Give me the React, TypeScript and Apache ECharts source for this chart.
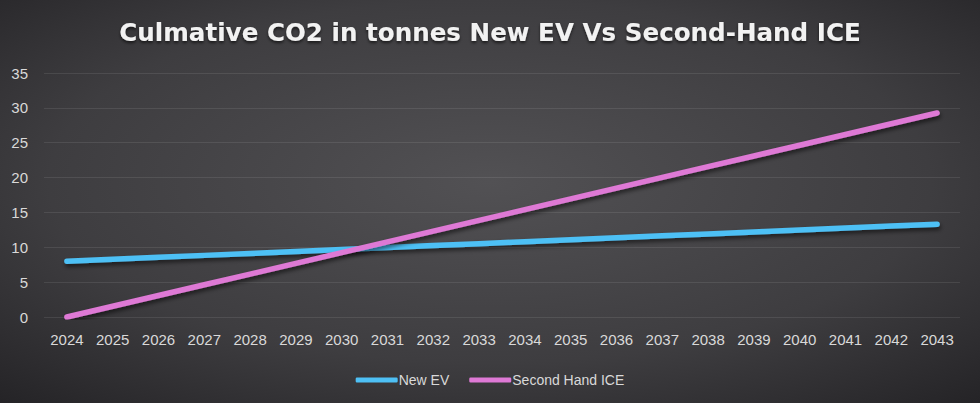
import React, { useEffect, useRef } from "react";
import * as echarts from "echarts";

const years = ["2024","2025","2026","2027","2028","2029","2030","2031","2032","2033","2034","2035","2036","2037","2038","2039","2040","2041","2042","2043"];
const newEV = [8.0, 8.28, 8.56, 8.84, 9.12, 9.4, 9.68, 9.96, 10.24, 10.52, 10.8, 11.08, 11.36, 11.64, 11.92, 12.2, 12.48, 12.76, 13.04, 13.32];
const secondHandICE = [0, 1.54, 3.08, 4.62, 6.16, 7.7, 9.24, 10.78, 12.32, 13.86, 15.4, 16.94, 18.48, 20.02, 21.56, 23.1, 24.64, 26.18, 27.72, 29.26];
const seriesNames = ["New EV", "Second Hand ICE"];
const titleText = "Culmative CO2 in tonnes New EV Vs Second-Hand ICE";

export default function App() {
  const ref = useRef<HTMLDivElement>(null);
  useEffect(() => {
    document.body.style.margin = "0";
    const chart = echarts.init(ref.current!, null, { renderer: "svg" });
    const shadow = {
      shadowColor: "rgba(0,0,0,0.55)",
      shadowBlur: 4,
      shadowOffsetY: 3,
      shadowOffsetX: 1,
    };
    chart.setOption({
      animation: false,
      backgroundColor: {
        type: "radial",
        x: 0.5,
        y: 0.45,
        r: 0.75,
        colorStops: [
          { offset: 0, color: "#525154" },
          { offset: 0.6, color: "#3e3d40" },
          { offset: 1, color: "#242326" },
        ],
      },
      title: {
        text: titleText,
        left: "center",
        top: 15,
        textStyle: {
          color: "#f2f2f2",
          fontFamily: "DejaVu Sans",
          fontWeight: "bold",
          fontSize: 24.6,
          textShadowColor: "rgba(0,0,0,0.6)",
          textShadowBlur: 3,
          textShadowOffsetY: 2,
        },
      },
      legend: {
        data: seriesNames,
        top: 368,
        left: "center",
        itemWidth: 42,
        itemHeight: 5,
        itemGap: 20,
        textStyle: {
          color: "#d9d9d9",
          fontFamily: "Liberation Sans",
          fontSize: 14,
          padding: [0, 0, 0, -4],
        },
        icon: "roundRect",
      },
      grid: { left: 44, right: 20, top: 73, bottom: 86, containLabel: false },
      xAxis: {
        type: "category",
        data: years,
        boundaryGap: true,
        axisLine: { show: false },
        axisTick: { show: false },
        axisLabel: {
          color: "#d9d9d9",
          fontFamily: "Liberation Sans",
          fontSize: 15,
          margin: 15,
        },
      },
      yAxis: {
        type: "value",
        min: 0,
        max: 35,
        interval: 5,
        axisLine: { show: false },
        axisTick: { show: false },
        splitLine: { lineStyle: { color: "rgba(255,255,255,0.09)", width: 1 } },
        axisLabel: {
          color: "#d9d9d9",
          fontFamily: "Liberation Sans",
          fontSize: 15,
          margin: 16,
        },
      },
      series: [
        {
          name: seriesNames[0],
          type: "line",
          data: newEV,
          symbol: "none",
          color: "#4ec0f5",
          lineStyle: { width: 5.5, cap: "round", color: "#4ec0f5", ...shadow },
        },
        {
          name: seriesNames[1],
          type: "line",
          data: secondHandICE,
          symbol: "none",
          color: "#de79d5",
          lineStyle: { width: 5.5, cap: "round", color: "#de79d5", ...shadow },
        },
      ],
    });
    return () => chart.dispose();
  }, []);
  return <div ref={ref} style={{ position: "absolute", left: 0, top: 0, width: 980, height: 403 }} />;
}
